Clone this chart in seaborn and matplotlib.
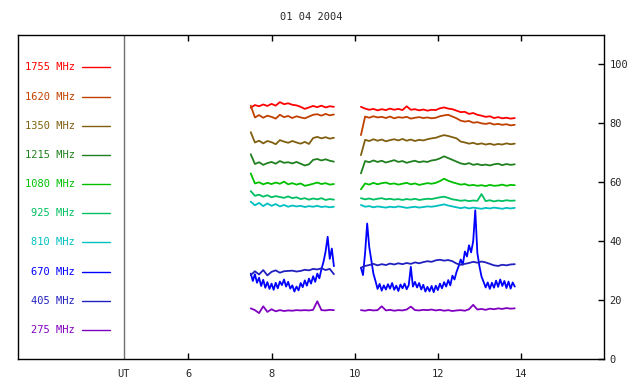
import numpy as np
import pandas as pd
import matplotlib
matplotlib.use("Agg")
import matplotlib.pyplot as plt
import seaborn as sns

# channels, top to bottom in the key
freqs = ["1755 MHz", "1620 MHz", "1350 MHz", "1215 MHz", "1080 MHz",
         "925 MHz", "810 MHz", "670 MHz", "405 MHz", "275 MHz"]
colors = ["#ff0000", "#c04000", "#806010", "#208020", "#00c000",
          "#00c060", "#00c0c0", "#0000ff", "#2020c0", "#8000c0"]

# observing windows (UT hours) and sample steps
seg1_start, seg2_start = 7.5, 10.15
step_coarse, step_fine = 0.1, 0.05

# first window 7.5-9.5 UT, 0.1 h samples
seg1 = {
    "1755 MHz": [85.3, 86.2, 85.8, 86.4, 85.9, 86.6, 86.0, 87.2, 86.5, 86.8, 86.3,
                 86.1, 85.6, 84.9, 85.4, 85.9, 85.5, 86.0, 85.4, 85.8, 85.6],
    "1620 MHz": [86.0, 82.0, 82.8, 81.9, 82.6, 82.2, 81.6, 82.9, 82.1, 82.5, 81.8,
                 82.4, 82.0, 81.7, 82.3, 82.9, 83.1, 82.6, 83.2, 82.7, 83.0],
    "1350 MHz": [77.0, 73.5, 74.1, 73.2, 74.0, 73.6, 72.9, 74.3, 73.8, 73.4, 74.0,
                 73.5, 73.1, 73.7, 73.0, 75.0, 75.4, 74.9, 75.3, 74.8, 75.1],
    "1215 MHz": [69.5, 66.2, 66.8, 65.9, 66.5, 66.9, 66.3, 67.2, 66.6, 66.8, 66.4,
                 66.9, 66.3, 65.7, 66.1, 67.6, 67.9, 67.4, 67.8, 67.3, 67.0],
    "1080 MHz": [63.0, 59.6, 60.0, 59.3, 59.8, 59.4, 59.9, 59.5, 60.2, 59.3, 59.7,
                 59.2, 59.6, 58.8, 59.1, 59.5, 59.9, 59.4, 59.7, 59.2, 59.4],
    "925 MHz": [57.0, 55.4, 55.8, 55.1, 55.6, 54.9, 55.3, 55.0, 54.7, 55.2, 54.6,
                54.9, 54.3, 54.6, 54.1, 54.5, 54.2, 54.6, 54.0, 54.3, 54.1],
    "810 MHz": [53.4, 52.2, 53.0, 51.9, 52.8, 52.0, 52.6, 51.8, 52.3, 51.7, 52.1,
                51.8, 52.0, 51.6, 51.9, 51.7, 52.0, 51.6, 51.8, 51.5, 51.7],
    "405 MHz": [28.5, 29.8, 28.7, 30.2, 28.4, 29.6, 30.1, 29.3, 29.8, 29.9, 30.0,
                29.7, 29.9, 30.3, 30.1, 30.6, 30.4, 30.8, 30.2, 30.6, 28.8],
    "275 MHz": [17.2, 16.6, 15.6, 17.9, 16.0, 16.9, 16.2, 16.6, 16.3, 16.5, 16.4,
                16.6, 16.5, 16.6, 16.5, 16.7, 19.6, 16.6, 16.5, 16.7, 16.6],
}
# 670 MHz is noisier, 0.05 h samples
seg1_670 = [29.0, 26.5, 28.8, 25.9, 27.6, 24.8, 26.9, 24.2, 26.1, 23.8, 25.6,
            23.5, 25.9, 24.0, 26.3, 25.1, 27.0, 24.6, 26.2, 23.9, 25.0, 22.9,
            24.6, 23.3, 25.8, 24.4, 26.7, 24.9, 27.3, 25.6, 28.1, 26.2, 29.0,
            27.4, 30.5, 33.0, 36.5, 41.5, 34.0, 37.5, 31.5]

# second window 10.15-13.85 UT, 0.1 h samples
seg2 = {
    "1755 MHz": [85.6, 85.0, 84.6, 84.9, 84.4, 84.8, 84.5, 85.0, 84.6, 84.9, 84.5,
                 85.8, 84.6, 84.8, 84.4, 84.7, 84.3, 84.6, 84.5, 85.1, 85.4, 85.0,
                 84.8, 84.3, 83.8, 83.9, 83.2, 83.5, 82.9, 82.6, 82.2, 82.4, 81.8,
                 82.1, 81.7, 81.9, 81.6, 81.8],
    "1620 MHz": [76.0, 82.3, 81.9, 82.4, 82.0, 82.2, 81.8, 82.3, 81.7, 82.1, 81.9,
                 82.2, 81.6, 81.9, 82.1, 81.8, 82.0, 81.7, 81.9, 82.4, 82.7, 82.9,
                 82.3, 81.7, 80.9, 80.6, 80.8, 80.2, 80.4, 80.0, 79.8, 80.1, 79.6,
                 79.8, 79.5, 79.7, 79.3, 79.5],
    "1350 MHz": [69.2, 74.4, 74.0, 74.6, 74.1, 74.5, 73.9, 74.3, 74.6, 74.2, 74.7,
                 74.1, 74.5, 74.0, 74.4, 74.2, 74.6, 74.9, 75.1, 75.6, 76.0, 75.7,
                 75.3, 74.9, 73.8, 73.5, 73.1, 73.4, 72.9, 73.2, 72.8, 73.1, 72.7,
                 73.0, 72.8, 73.2, 72.9, 73.1],
    "1215 MHz": [63.0, 67.2, 66.8, 67.4, 66.9, 67.3, 66.7, 67.1, 67.5, 66.9, 67.2,
                 66.6, 67.0, 67.3, 66.8, 67.1, 66.9, 67.4, 67.6, 68.1, 68.8, 68.2,
                 67.6, 67.0, 66.4, 66.1, 66.5, 65.9, 66.2, 65.8, 66.0, 65.7, 66.1,
                 66.3, 65.8, 66.2, 65.9, 66.1],
    "1080 MHz": [57.6, 59.6, 59.2, 59.8, 59.3, 59.7, 59.9, 59.4, 59.6, 59.2, 59.5,
                 59.8, 59.3, 59.6, 59.1, 59.4, 59.7, 59.5, 59.8, 60.4, 61.2, 60.5,
                 60.0, 59.6, 59.2, 59.4, 58.9, 59.1, 58.8, 59.0, 58.7, 59.1, 58.8,
                 58.9, 59.2, 58.8, 59.1, 59.0],
    "925 MHz": [54.6, 54.2, 54.5, 54.1, 54.4, 54.6, 54.2, 54.4, 54.1, 54.3, 54.0,
                54.3, 54.1, 54.4, 54.0, 54.2, 54.4, 54.3, 54.6, 54.9, 55.1, 54.7,
                54.2, 54.0, 53.7, 53.9, 53.6, 53.8, 53.7, 56.0, 53.6, 53.9, 53.5,
                53.8, 53.6, 53.9, 53.7, 53.8],
    "810 MHz": [52.3, 51.7, 51.9, 51.5, 51.8, 51.6, 51.4, 51.7, 51.5, 51.8, 51.6,
                51.3, 51.5, 51.7, 51.4, 51.6, 51.8, 51.7, 51.9, 52.2, 52.5, 52.1,
                51.8, 51.5, 51.2, 51.5, 51.1, 51.4, 51.2, 51.0, 51.3, 51.1, 51.4,
                51.2, 51.0, 51.3, 51.1, 51.3],
    "405 MHz": [31.0, 31.6, 31.9, 32.3, 31.8, 32.2, 31.9, 32.4, 32.1, 32.5, 32.2,
                32.6, 32.3, 32.8, 32.5, 32.9, 33.2, 33.0, 33.5, 33.7, 33.4, 33.6,
                33.2, 32.4, 32.0, 32.3, 32.6, 33.0, 32.7, 33.1, 32.8, 32.3, 31.8,
                31.6, 32.0, 31.8, 32.1, 32.2],
    "275 MHz": [16.6, 16.4, 16.7, 16.5, 16.6, 17.9, 16.5, 16.7, 16.4, 16.6, 16.5,
                16.8, 17.8, 16.6, 16.5, 16.7, 16.6, 16.8, 16.5, 16.7, 16.4, 16.6,
                16.3, 16.5, 16.6, 16.4, 16.9, 18.4, 16.8, 17.0, 16.7, 17.1, 16.9,
                17.2, 17.0, 17.3, 17.1, 17.2],
}
seg2_670 = [31.0, 28.5, 36.0, 46.0, 38.0, 33.5, 29.0, 26.5, 23.8, 25.5, 23.2,
            25.0, 23.6, 25.4, 23.9, 25.8, 23.5, 24.9, 23.1, 25.3, 24.0, 25.6,
            23.7, 25.1, 31.3, 24.6, 26.2, 24.3, 25.8, 23.6, 25.2, 22.9, 24.5,
            23.0, 24.8, 22.7, 24.9, 23.4, 25.6, 24.0, 26.1, 24.6, 26.8, 25.0,
            28.3, 27.0, 29.6, 31.5, 33.8, 32.0, 36.5, 34.8, 38.6, 36.2, 40.0,
            50.5, 36.0, 31.5, 28.0, 26.2, 24.3, 26.0, 23.8, 25.9, 24.2, 26.6,
            24.5, 27.0, 24.8, 26.5, 24.1, 26.3, 23.9, 26.0, 24.6]


def add_rows(rows, freq, seg, start, step, vals):
    for i, v in enumerate(vals):
        rows.append({"t": start + step * i, "v": v, "freq": freq, "seg": seg})


rows = []
for f in freqs:
    if f == "670 MHz":
        add_rows(rows, f, 1, seg1_start, step_fine, seg1_670)
        add_rows(rows, f, 2, seg2_start, step_fine, seg2_670)
    else:
        add_rows(rows, f, 1, seg1_start, step_coarse, seg1[f])
        add_rows(rows, f, 2, seg2_start, step_coarse, seg2[f])
df = pd.DataFrame(rows)

sns.set_style("white")
plt.rcParams["font.family"] = ["DejaVu Sans Mono", "DejaVu Sans"]

fig = plt.figure(figsize=(6.4, 3.84), dpi=100)
ax = fig.add_axes([0.028, 0.065, 0.916, 0.844])

sns.lineplot(data=df, x="t", y="v", hue="freq", hue_order=freqs,
             palette=dict(zip(freqs, colors)), units="seg", estimator=None,
             linewidth=1.3, legend=False, ax=ax)

ax.set_xlim(1.9, 16.0)
ax.set_ylim(0, 110)

# key on the left, label before sample line
key_y = [99.0, 89.1, 79.2, 69.3, 59.4, 49.5, 39.6, 29.7, 19.8, 9.9]
for f, c, y in zip(freqs, colors, key_y):
    ax.text(3.27, y, f, color=c, ha="right", va="center", fontsize=7.5)
    ax.plot([3.44, 4.11], [y, y], color=c, lw=1.0)

ut_x = 4.45
ax.axvline(ut_x, color="#707070", lw=1.0)
ax.text(ut_x, -3.5, "UT", ha="center", va="top", fontsize=7.5)

ax.set_xticks([6, 8, 10, 12, 14])
ax.set_yticks([0, 20, 40, 60, 80, 100])
ax.tick_params(axis="x", direction="in", length=4, top=True, bottom=True,
               labelsize=7.5, pad=7, color="black", width=1)
ax.tick_params(axis="y", direction="in", length=4, left=False, right=True,
               labelleft=False, labelright=True, labelsize=7.5, pad=4,
               color="black", width=1)
for s in ax.spines.values():
    s.set_color("black")
    s.set_linewidth(1.0)
    s.set_visible(True)
ax.set_xlabel("")
ax.set_ylabel("")

fig.text(0.486, 0.956, "01 04 2004", ha="center", va="center", fontsize=7.5)

fig.savefig("out.png", dpi=100)
